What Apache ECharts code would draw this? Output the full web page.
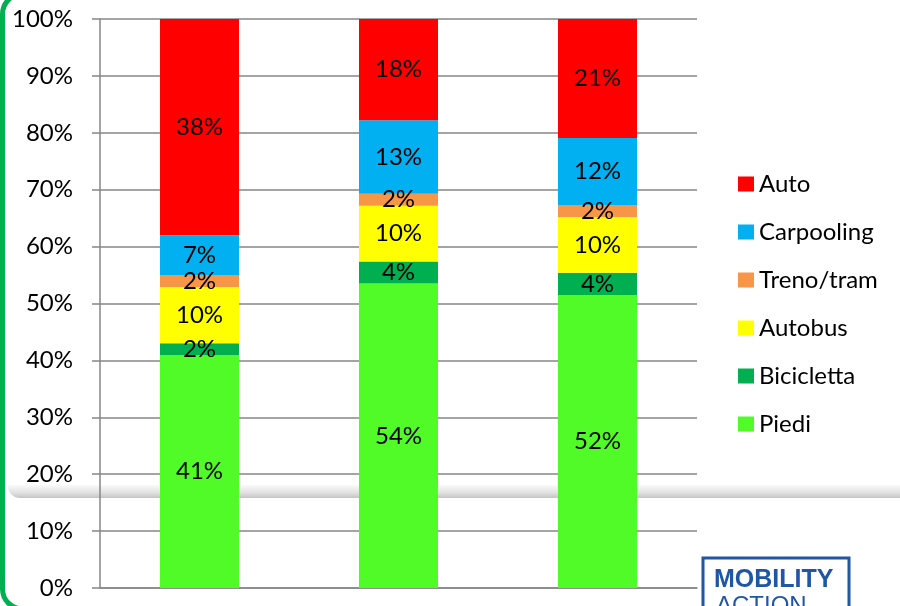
<!DOCTYPE html>
<html>
<head>
<meta charset="utf-8">
<script src="https://cdn.jsdelivr.net/npm/echarts@6/dist/echarts.min.js"></script>
<style>
  html, body { margin: 0; padding: 0; background: #fff; }
  #chart { width: 900px; height: 606px; }
</style>
</head>
<body>
<div id="chart"></div>
<script>
// categories are not visible in the picture (cut off below the axis)
const categories = ['Gruppo 1', 'Gruppo 2', 'Gruppo 3']

// shares in %, bottom to top of each bar
const piedi = [40.9, 53.5, 51.5]
const bicicletta = [2.1, 3.9, 3.9]
const autobus = [9.9, 9.8, 9.8]
const trenoTram = [2.1, 2.1, 2.1]
const carpooling = [7.0, 12.9, 11.8]
const auto = [38.0, 17.8, 20.9]

const legendOrder = ['Auto', 'Carpooling', 'Treno/tram', 'Autobus', 'Bicicletta', 'Piedi']
const yTicks = [0, 10, 20, 30, 40, 50, 60, 70, 80, 90, 100]

const FONT = 'Lato'
const chart = echarts.init(document.getElementById('chart'))

function seg(name, data, color) {
  return {
    name,
    type: 'bar',
    stack: 'tot',
    data,
    barWidth: 79,
    itemStyle: { color },
    label: {
      show: true,
      position: 'inside',
      color: '#000',
      fontFamily: FONT,
      fontSize: 24,
      formatter: (p) => Math.round(p.value) + '%',
    },
  }
}

chart.setOption({
  animation: false,
  textStyle: { fontFamily: FONT },
  grid: { left: 100, right: 203, top: 19, bottom: 18 },
  legend: {
    orient: 'vertical',
    left: 733,
    top: 167,
    data: legendOrder,
    icon: 'rect',
    itemWidth: 16,
    itemHeight: 15,
    itemGap: 24,
    textStyle: { fontFamily: FONT, fontSize: 24, color: '#000' },
  },
  xAxis: {
    type: 'category',
    data: categories,
    axisLine: { lineStyle: { color: '#868686', width: 1.5 } },
    axisTick: { show: false },
    axisLabel: { show: false },
  },
  yAxis: {
    type: 'value',
    min: yTicks[0],
    max: yTicks[yTicks.length - 1],
    interval: 10,
    axisLine: { show: true, lineStyle: { color: '#868686', width: 1.5 } },
    axisTick: { show: true, length: 8, lineStyle: { color: '#868686', width: 1.5 } },
    axisLabel: {
      formatter: '{value}%',
      color: '#000',
      fontFamily: FONT,
      fontSize: 24,
      margin: 27,
    },
    splitLine: { lineStyle: { color: '#868686', width: 1.5 } },
  },
  series: [
    seg('Piedi', piedi, '#50fb28'),
    seg('Bicicletta', bicicletta, '#00b050'),
    seg('Autobus', autobus, '#ffff00'),
    seg('Treno/tram', trenoTram, '#f79646'),
    seg('Carpooling', carpooling, '#00b0f0'),
    seg('Auto', auto, '#ff0000'),
  ],
  graphic: [
    // shadow band of the slide box behind the chart
    {
      type: 'rect',
      z: -10,
      shape: { x: 8, y: 485, width: 900, height: 13, r: [0, 0, 0, 12] },
      style: {
        fill: {
          type: 'linear', x: 0, y: 0, x2: 0, y2: 1,
          colorStops: [
            { offset: 0, color: 'rgba(250,250,250,1)' },
            { offset: 0.6, color: 'rgba(225,225,225,1)' },
            { offset: 1, color: 'rgba(196,196,196,1)' },
          ],
        },
      },
      silent: true,
    },
    // green slide frame
    {
      type: 'rect',
      z: 100,
      shape: { x: 2.5, y: -6, width: 1200, height: 615, r: 20 },
      style: { fill: 'none', stroke: '#00b050', lineWidth: 5 },
      silent: true,
    },
    // logo
    {
      type: 'rect',
      z: 100,
      shape: { x: 703, y: 558, width: 146, height: 60 },
      style: { fill: '#fff', stroke: '#1f56a5', lineWidth: 3 },
      silent: true,
    },
    {
      type: 'text',
      z: 101,
      left: 714,
      top: 568,
      style: { text: 'MOBILITY', fill: '#1f56a5', font: 'bold 25px "Liberation Sans"' },
      silent: true,
    },
    {
      type: 'text',
      z: 101,
      left: 716,
      top: 594,
      style: { text: 'ACTION', fill: '#1f56a5', font: '24px "Liberation Sans"' },
      silent: true,
    },
  ],
})
</script>
</body>
</html>
